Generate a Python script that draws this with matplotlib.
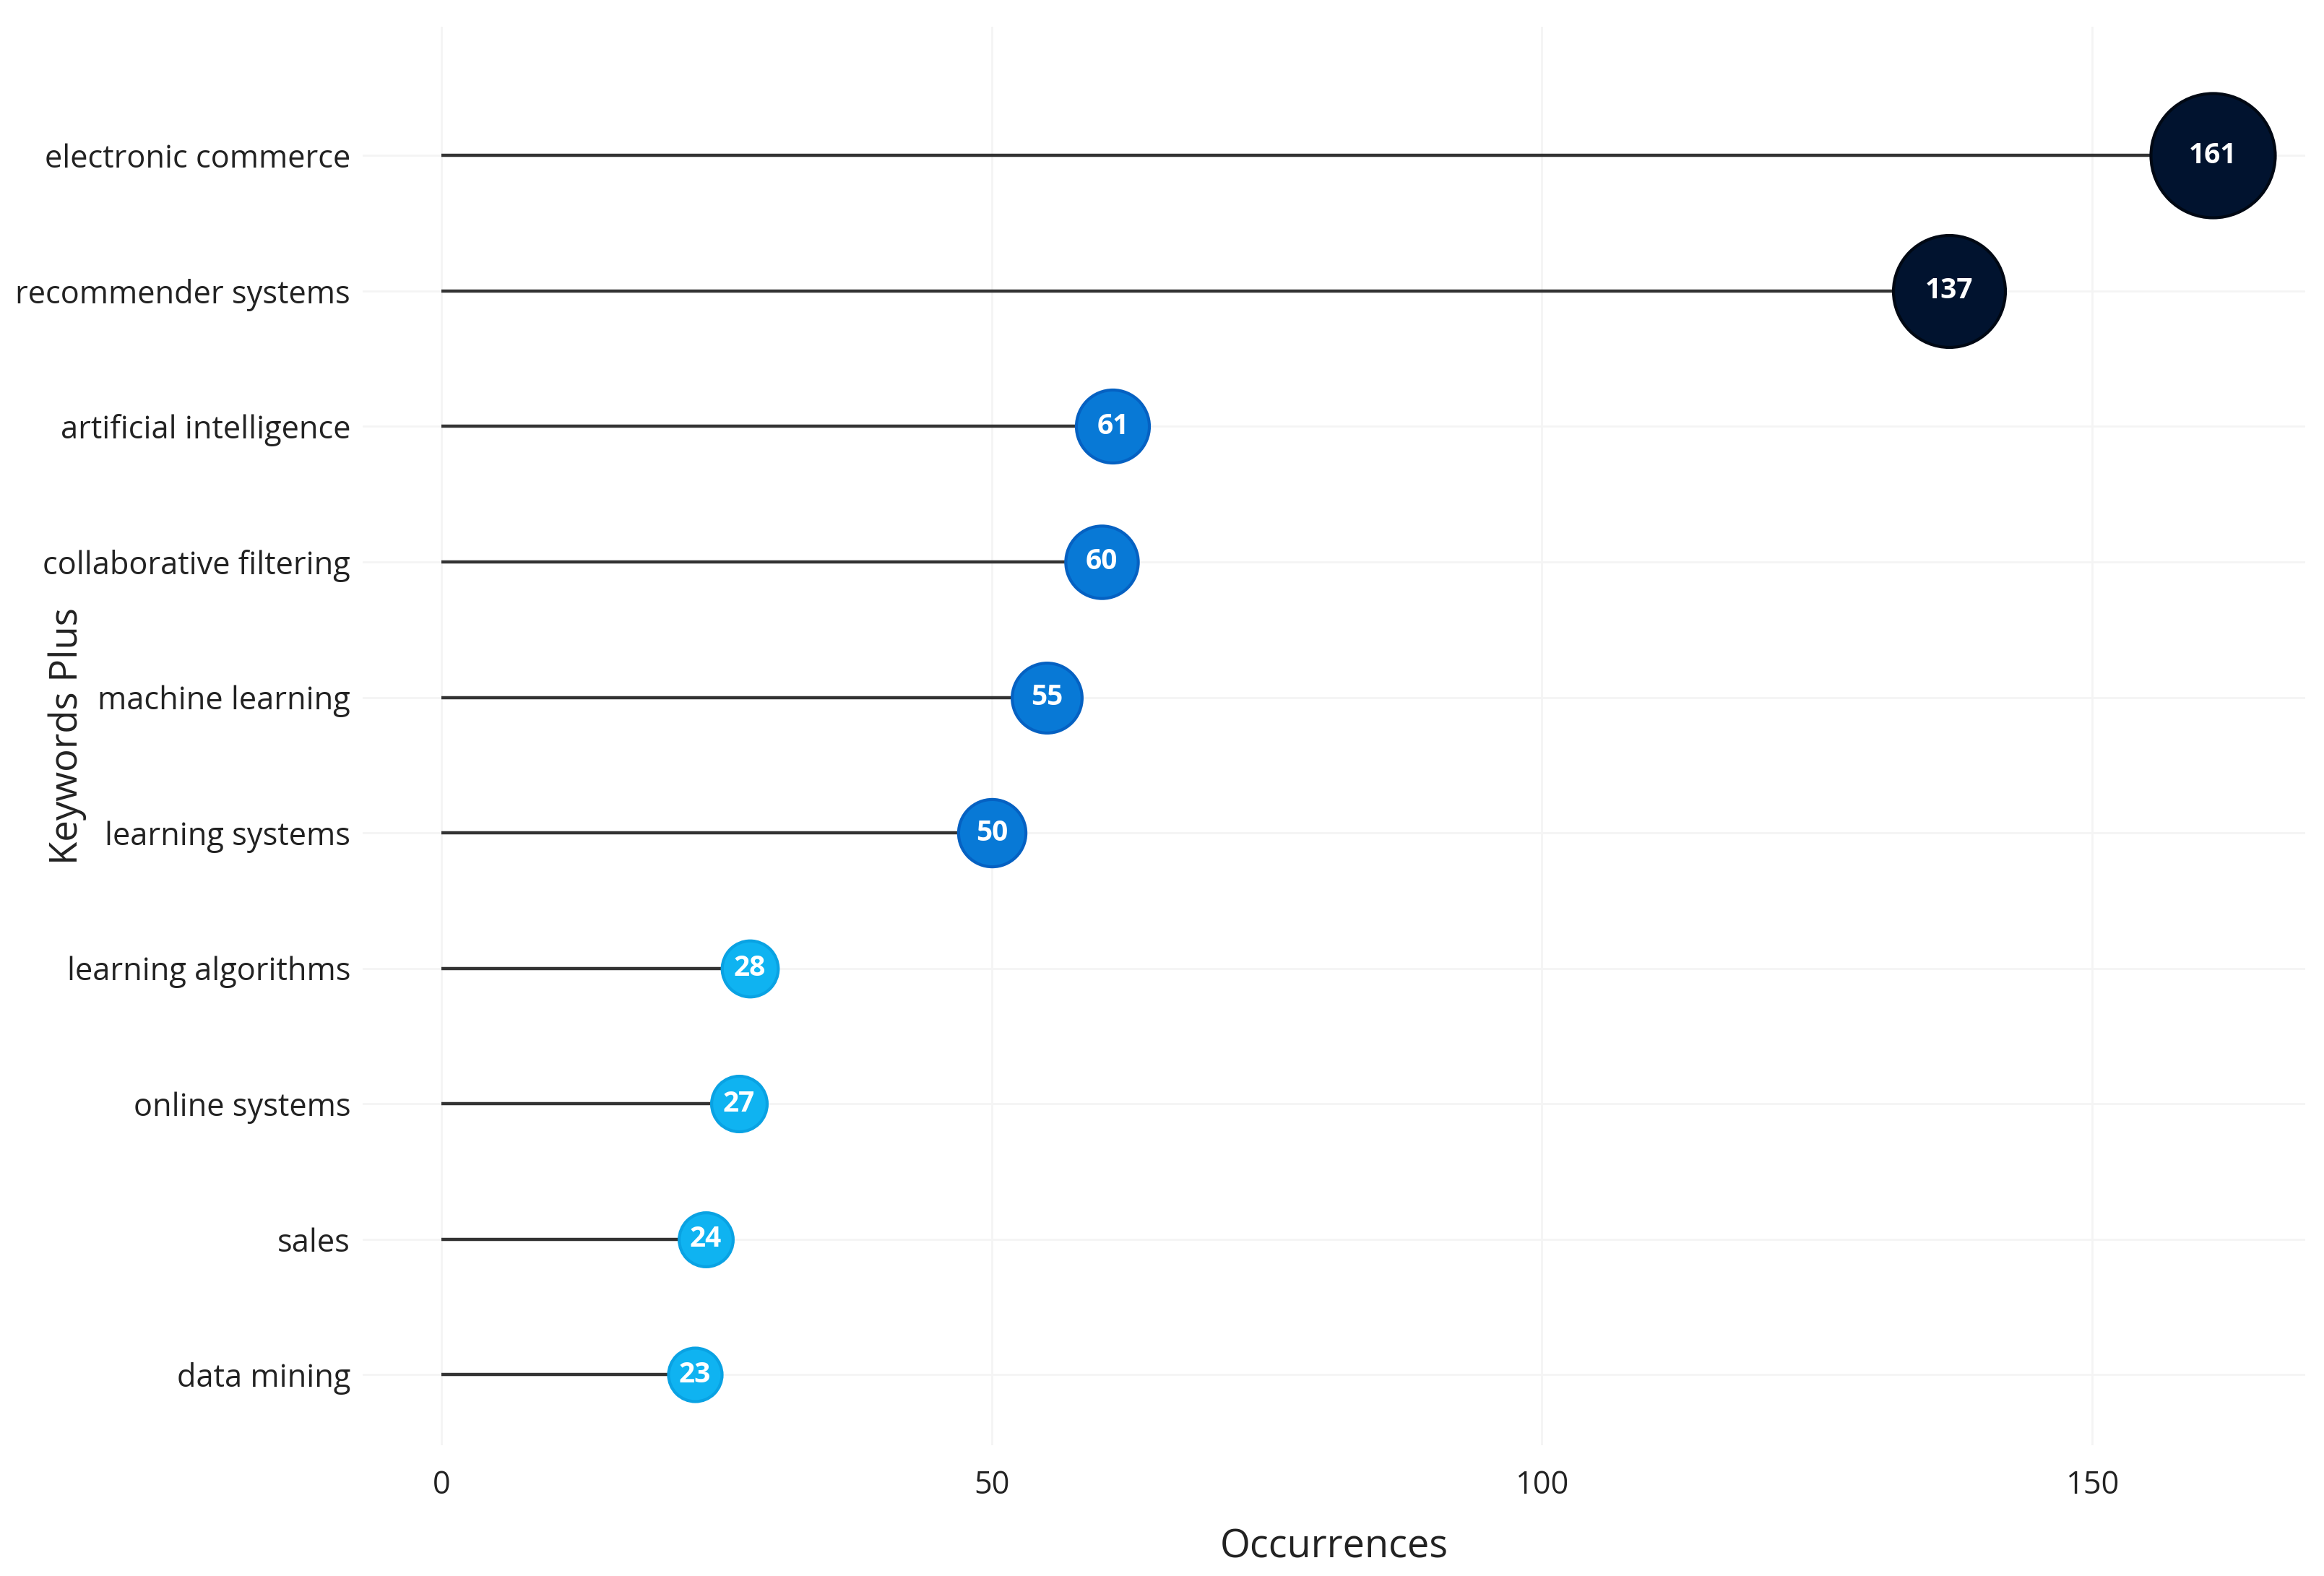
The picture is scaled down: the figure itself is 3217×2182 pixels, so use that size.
import matplotlib
matplotlib.use("Agg")
import matplotlib.pyplot as plt
import numpy as np

# data, bottom row first
keywords = ["data mining", "sales", "online systems", "learning algorithms",
            "learning systems", "machine learning", "collaborative filtering",
            "artificial intelligence", "recommender systems", "electronic commerce"]
occurrences = [23, 24, 27, 28, 50, 55, 60, 61, 137, 161]
x_ticks = [0, 50, 100, 150]

plt.rcParams['font.family'] = ['Open Sans', 'DejaVu Sans']

DPI = 200
fig = plt.figure(figsize=(3217 / DPI, 2182 / DPI), dpi=DPI)
ax = fig.add_axes([0.156, 0.083, 0.836, 0.900])

y = np.arange(1, len(keywords) + 1)
vals = np.array(occurrences, dtype=float)

# size scale: diameter grows linearly with the value (in pixels)
diam_px = 57.7 + 0.71 * vals
sizes = (diam_px * 72 / DPI) ** 2


def bubble_color(v):
    if v >= 100:
        return "#01132f", "#000814"
    if v >= 40:
        return "#0879d6", "#0561c2"
    return "#0fb3f1", "#09a2e3"


ax.hlines(y, 0, vals, color="#333333", lw=1.6, zorder=2)
for yi, v, s in zip(y, vals, sizes):
    fc, ec = bubble_color(v)
    ax.scatter(v, yi, s=s, color=fc, edgecolors=ec, linewidths=1.5, zorder=3)
    ax.text(v, yi, f"{int(v)}", color="white", fontsize=14, fontweight="bold",
            ha="center", va="center", zorder=4)

ax.set_xlim(-7.2, 169.4)
ax.set_ylim(0.48, 10.95)
ax.set_xticks(x_ticks)
ax.set_yticks(y)
ax.set_yticklabels(keywords)

ax.grid(True, which="major", color="#f4f4f4", lw=1.0, zorder=0)
ax.set_axisbelow(True)
for sp in ax.spines.values():
    sp.set_visible(False)
ax.tick_params(axis="both", which="both", length=0, colors="#222222", labelsize=15.6)
ax.tick_params(axis="y", pad=6)
ax.tick_params(axis="x", pad=12)

ax.set_xlabel("Occurrences", fontsize=19.4, color="#222222", labelpad=13)
fig.text(0.029, 0.533, "Keywords Plus", rotation=90, fontsize=19, color="#222222",
         ha="center", va="center")

fig.savefig("out.png", dpi=DPI, facecolor="white")
